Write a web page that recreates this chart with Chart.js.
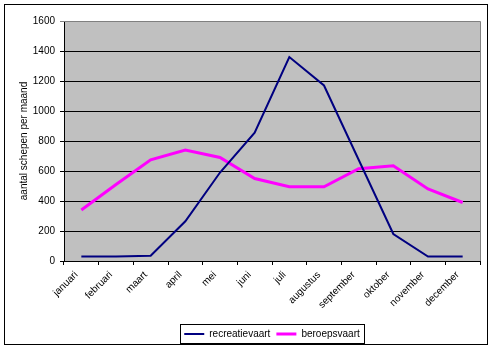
<!DOCTYPE html>
<html>
<head>
<meta charset="utf-8">
<script src="https://cdn.jsdelivr.net/npm/chart.js@4/dist/chart.umd.min.js"></script>
<style>
html,body{margin:0;padding:0;background:#fff;}
#wrap{width:492px;height:349px;position:relative;}
</style>
</head>
<body>
<div id="wrap"><canvas id="c" width="492" height="349"></canvas></div>
<script>
const months = ["januari","februari","maart","april","mei","juni","juli","augustus","september","oktober","november","december"];
const recreatievaart = [30,30,35,265,590,855,1360,1170,675,180,30,30];
const beroepsvaart = [340,510,675,740,690,550,495,495,615,635,480,390];
const yTicks = [0,200,400,600,800,1000,1200,1400,1600];

Chart.defaults.font.family = "'Liberation Sans', Arial, sans-serif";
Chart.defaults.font.size = 10;
Chart.defaults.color = '#000';

const frame = {
  id:'frame',
  beforeDraw(chart){
    const ctx = chart.ctx, a = chart.chartArea;
    ctx.save();
    ctx.fillStyle='#fff';
    ctx.fillRect(0,0,chart.width,chart.height);
    ctx.fillStyle='#c0c0c0';
    ctx.fillRect(a.left,a.top,a.right-a.left,a.bottom-a.top);
    ctx.restore();
  },
  afterDraw(chart){
    const ctx = chart.ctx, a = chart.chartArea;
    ctx.save();
    ctx.strokeStyle='#808080';
    ctx.lineWidth=1;
    ctx.beginPath();
    ctx.moveTo(a.left, a.top+0.5);
    ctx.lineTo(a.right+0.5, a.top+0.5);
    ctx.lineTo(a.right+0.5, a.bottom);
    ctx.stroke();
    ctx.strokeStyle='#000';
    ctx.strokeRect(4.5,4.5,483,340);
    const lg = chart.legend;
    if (lg && lg.legendHitBoxes && lg.legendHitBoxes.length){
      const hb = lg.legendHitBoxes;
      let l = Infinity, r = -Infinity, t = Infinity, b = -Infinity;
      hb.forEach(h=>{l=Math.min(l,h.left);r=Math.max(r,h.left+h.width);t=Math.min(t,h.top);b=Math.max(b,h.top+h.height);});
      ctx.strokeRect(Math.round(l-4)+0.5, Math.round(t-5)+0.5, Math.round(r-l+8), Math.round(b-t+9));
    }
    ctx.restore();
  }
};

new Chart(document.getElementById('c'), {
  type:'line',
  data:{
    labels: months,
    datasets:[
      {label:'recreatievaart', data: recreatievaart, borderColor:'#000080', backgroundColor:'#000080', borderWidth:2, pointRadius:0, tension:0},
      {label:'beroepsvaart', data: beroepsvaart, borderColor:'#ff00ff', backgroundColor:'#ff00ff', borderWidth:3, pointRadius:0, tension:0}
    ]
  },
  options:{
    responsive:false,
    animation:false,
    devicePixelRatio:1,
    layout:{padding:{left:18,right:12,top:21,bottom:0}},
    plugins:{
      legend:{
        position:'bottom',
        fullSize:false,
        labels:{usePointStyle:true, pointStyle:'line', pointStyleWidth:20, boxHeight:10, padding:6, font:{size:10}, color:'#000'}
      },
      tooltip:{enabled:false}
    },
    scales:{
      x:{
        offset:true,
        grid:{offset:true, drawOnChartArea:false, drawTicks:true, tickLength:4, color:'#000'},
        border:{color:'#000', width:1},
        ticks:{minRotation:45, maxRotation:45, autoSkip:false, padding:4, labelOffset:-5, color:'#000', font:{size:10}},
        afterFit(s){ s.height = 62; }
      },
      y:{
        min:0, max:1600,
        afterBuildTicks(s){ s.ticks = yTicks.map(v=>({value:v})); },
        grid:{color:(c)=> c.tick && c.tick.value===1600 ? '#808080' : '#000', tickLength:4, drawTicks:true},
        border:{color:'#000', width:1},
        ticks:{padding:5, color:'#000', font:{size:10}, callback:(v)=>String(v)},
        title:{display:true, text:'aantal schepen per maand', color:'#000', font:{size:10}, padding:{top:0,bottom:4}},
        afterFit(s){ s.width = 46; }
      }
    }
  },
  plugins:[frame]
});
</script>
</body>
</html>
